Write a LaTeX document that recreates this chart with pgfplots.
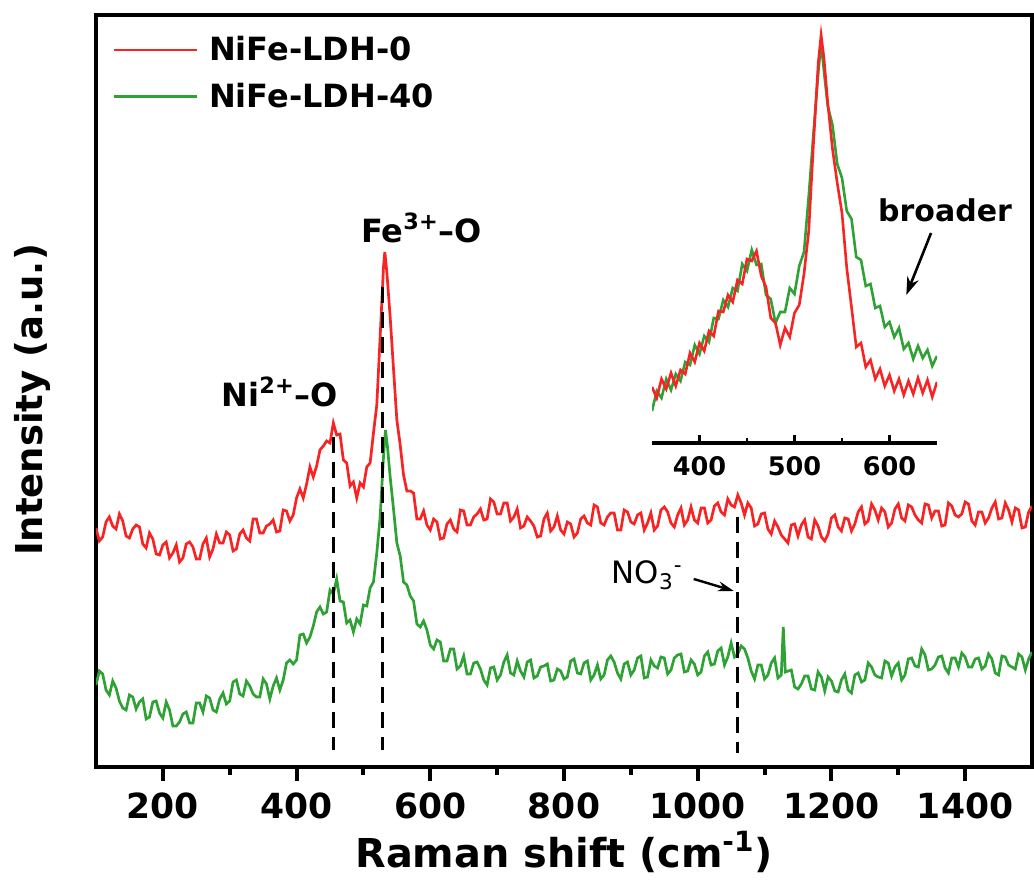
\documentclass[border=0pt]{standalone}
\usepackage{fontspec}
\setmainfont{DejaVu Sans}
\usepackage{pgfplots}
\pgfplotsset{compat=1.18}
\usetikzlibrary{arrows.meta}
\definecolor{cred}{RGB}{248,36,36}
\definecolor{cgreen}{RGB}{46,162,52}
\begin{document}
\begin{tikzpicture}
\begin{axis}[
  name=main,
  scale only axis, width=468pt, height=376pt,
  xmin=100, xmax=1500, ymin=0, ymax=752,
  axis line style={line width=2.2pt},
  xtick={200,400,...,1400}, minor x tick num=1,
  xtick pos=bottom, ytick=\empty,
  tick align=outside, major tick length=7pt, minor tick length=4pt,
  every tick/.style={black, line width=2pt},
  ticklabel style={font=\fontsize{17.3}{20}\selectfont\bfseries},
  xticklabel style={yshift=-2.5pt},
  /pgf/number format/assume math mode=true,
  /pgf/number format/1000 sep={},
  xlabel={Raman shift (cm\textsuperscript{-1})},
  xlabel style={font=\fontsize{19.9}{24}\selectfont\bfseries, at={(axis description cs:0.5,-0.113)}, anchor=center},
  ylabel={Intensity (a.u.)},
  ylabel style={font=\fontsize{18.5}{22}\selectfont\bfseries, at={(axis description cs:-0.068,0.488)}, anchor=center},
  legend style={draw=none, fill=none, at={(axis description cs:0,1)}, anchor=north west, xshift=8pt, yshift=-8.5pt, font=\fontsize{16}{19}\selectfont\bfseries, row sep=5.5pt, inner sep=0pt},
  legend image code/.code={\draw[#1, line width=1.3pt] (0pt,0pt) -- (41.5pt,0pt); \path (45pt,0pt);},
  legend cell align=left,
]
\addplot[cred, line width=1.35pt] coordinates {
(100,239)(105,226)(110,230)(115,245)(120,250)(125,241)(130,238)(135,253)(140,246)(145,231)
(150,229)(155,238)(160,242)(165,240)(170,223)(175,219)(180,234)(185,228)(190,213)(195,212)
(200,222)(205,225)(210,209)(215,214)(220,222)(225,205)(230,209)(235,223)(240,225)(245,220)
(250,208)(255,208)(260,223)(265,229)(270,210)(275,218)(280,233)(285,224)(290,224)(295,235)
(300,232)(305,216)(310,218)(315,233)(320,237)(325,229)(330,226)(335,248)(340,248)(345,234)
(350,234)(355,241)(360,243)(365,247)(370,235)(375,236)(380,257)(385,256)(390,246)(395,252)
(400,269)(405,278)(410,269)(415,283)(420,300)(425,290)(430,301)(435,317)(440,321)(445,326)
(450,324)(455,344)(460,332)(465,333)(470,307)(475,304)(480,281)(485,285)(490,269)(495,284)
(500,280)(505,300)(510,304)(515,334)(520,362)(525,430)(530,500)(532,515)(535,495)(540,450)
(545,398)(550,347)(555,322)(560,292)(565,276)(570,276)(575,274)(580,248)(585,248)(590,256)
(595,242)(600,237)(605,248)(610,245)(615,228)(620,229)(625,243)(630,247)(635,238)(640,235)
(645,257)(650,256)(655,242)(660,242)(665,250)(670,253)(675,258)(680,247)(685,248)(690,268)
(695,265)(700,253)(705,253)(710,264)(715,264)(720,246)(725,250)(730,258)(735,239)(740,241)
(745,250)(750,246)(755,241)(760,230)(765,231)(770,248)(775,254)(780,236)(785,240)(790,251)
(795,237)(800,233)(805,245)(810,243)(815,230)(820,234)(825,248)(830,251)(835,244)(840,242)
(845,262)(850,260)(855,244)(860,242)(865,250)(870,254)(875,254)(880,237)(885,237)(890,257)
(895,255)(900,245)(905,243)(910,252)(915,254)(920,237)(925,244)(930,254)(935,237)(940,241)
(945,257)(950,260)(955,255)(960,244)(965,240)(970,252)(975,259)(980,242)(985,247)(990,260)
(995,247)(1000,244)(1005,259)(1010,259)(1015,244)(1020,247)(1025,261)(1030,264)(1035,255)(1040,252)
(1045,268)(1050,262)(1055,260)(1060,272)(1065,264)(1070,252)(1075,264)(1080,259)(1085,241)(1090,243)
(1095,253)(1100,254)(1105,238)(1110,233)(1115,246)(1120,240)(1125,232)(1130,228)(1135,224)(1140,242)
(1145,243)(1150,231)(1155,242)(1160,247)(1165,230)(1170,228)(1175,247)(1180,241)(1185,230)(1190,226)
(1195,233)(1200,249)(1205,252)(1210,240)(1215,236)(1220,249)(1225,248)(1230,236)(1235,243)(1240,255)
(1245,260)(1250,243)(1255,246)(1260,263)(1265,257)(1270,247)(1275,259)(1280,255)(1285,240)(1290,244)
(1295,258)(1300,263)(1305,249)(1310,246)(1315,262)(1320,260)(1325,252)(1330,247)(1335,244)(1340,263)
(1345,262)(1350,249)(1355,256)(1360,256)(1365,241)(1370,242)(1375,264)(1380,261)(1385,252)(1390,250)
(1395,253)(1400,265)(1405,263)(1410,246)(1415,242)(1420,255)(1425,255)(1430,244)(1435,249)(1440,259)
(1445,265)(1450,248)(1455,249)(1460,264)(1465,257)(1470,245)(1475,259)(1480,257)(1485,239)(1490,240)
(1495,255)(1500,261)
};
\addlegendentry{NiFe-LDH-0}
\addplot[cgreen, line width=1.35pt] coordinates {
(100,82)(105,96)(110,93)(115,77)(120,72)(125,86)(130,79)(135,66)(140,59)(145,57)
(150,72)(155,70)(160,58)(165,65)(170,68)(175,48)(180,50)(185,65)(190,66)(195,54)
(200,49)(205,65)(210,57)(215,41)(220,41)(225,45)(230,53)(235,55)(240,44)(245,44)
(250,64)(255,64)(260,55)(265,71)(270,69)(275,57)(280,55)(285,68)(290,74)(295,63)
(300,66)(305,85)(310,87)(315,73)(320,71)(325,86)(330,81)(335,73)(340,70)(345,70)
(350,88)(355,83)(360,68)(365,81)(370,89)(375,77)(380,87)(385,104)(390,107)(395,103)
(400,107)(405,132)(410,133)(415,124)(420,130)(425,141)(430,155)(435,160)(440,153)(445,155)
(450,177)(455,173)(460,188)(465,166)(470,165)(475,144)(480,147)(485,135)(490,148)(495,143)
(500,162)(505,161)(510,179)(515,185)(520,214)(525,250)(530,310)(533,337)(536,320)(540,290)
(545,258)(550,224)(555,211)(560,185)(565,182)(570,171)(575,166)(580,143)(585,140)(590,146)
(595,137)(600,122)(605,118)(610,127)(615,125)(620,106)(625,106)(630,118)(635,118)(640,98)
(645,101)(650,111)(655,93)(660,93)(665,104)(670,105)(675,98)(680,87)(685,82)(690,99)
(695,100)(700,87)(705,92)(710,105)(715,112)(720,94)(725,92)(730,106)(735,96)(740,90)
(745,105)(750,107)(755,89)(760,91)(765,100)(770,101)(775,103)(780,86)(785,87)(790,98)
(795,96)(800,88)(805,90)(810,106)(815,108)(820,94)(825,93)(830,104)(835,106)(840,87)
(845,92)(850,102)(855,88)(860,92)(865,107)(870,111)(875,105)(880,94)(885,88)(890,103)
(895,105)(900,92)(905,97)(910,109)(915,111)(920,89)(925,90)(930,107)(935,101)(940,99)
(945,110)(950,109)(955,93)(960,97)(965,109)(970,112)(975,113)(980,95)(985,96)(990,107)
(995,103)(1000,92)(1005,95)(1010,111)(1015,115)(1020,102)(1025,103)(1030,116)(1035,119)(1040,102)
(1045,110)(1050,124)(1055,110)(1060,113)(1065,121)(1070,118)(1075,109)(1080,96)(1085,88)(1090,102)
(1095,102)(1100,88)(1105,92)(1110,104)(1115,109)(1120,89)(1125,92)(1128,140)(1131,95)(1140,97)
(1145,80)(1150,78)(1155,83)(1160,91)(1165,91)(1170,78)(1175,77)(1180,95)(1185,90)(1190,76)
(1195,90)(1200,86)(1205,76)(1210,75)(1215,87)(1220,93)(1225,77)(1230,74)(1235,92)(1240,94)
(1245,85)(1250,87)(1255,104)(1260,100)(1265,92)(1270,90)(1275,89)(1280,106)(1285,104)(1290,91)
(1295,100)(1300,104)(1305,87)(1310,92)(1315,108)(1320,109)(1325,101)(1330,100)(1335,118)(1340,112)
(1345,97)(1350,98)(1355,102)(1360,110)(1365,111)(1370,99)(1375,94)(1380,109)(1385,109)(1390,100)
(1395,114)(1400,110)(1405,100)(1410,100)(1415,108)(1420,109)(1425,98)(1430,101)(1435,113)(1440,108)
(1445,94)(1450,92)(1455,111)(1460,110)(1465,102)(1470,100)(1475,98)(1480,113)(1485,110)(1490,97)
(1495,108)(1500,115)
};
\addlegendentry{NiFe-LDH-40}
\addplot[black, line width=1.6pt, dash pattern=on 8pt off 4.5pt, forget plot] coordinates {(455,330)(455,17)};
\addplot[black, line width=1.6pt, dash pattern=on 8pt off 4.5pt, forget plot] coordinates {(528,480)(528,17)};
\addplot[black, line width=1.6pt, dash pattern=on 8pt off 4.5pt, forget plot] coordinates {(1060,250)(1060,14)};
\node[font=\fontsize{16}{19}\selectfont\bfseries] at (axis cs:375,375) {Ni\textsuperscript{2+}–O};
\node[font=\fontsize{16}{19}\selectfont\bfseries] at (axis cs:587,539) {Fe\textsuperscript{3+}–O};
\node[font=\fontsize{15}{18}\selectfont\bfseries] at (axis cs:1370,557) {broader};
\draw[-{Stealth[length=9pt,width=6pt]}, line width=1.3pt] (axis cs:1349,534) -- (axis cs:1312,472);
\node[font=\fontsize{15.4}{18}\selectfont, anchor=east] at (axis cs:988,192) {NO\textsubscript{3}\textsuperscript{-}};
\draw[-{Stealth[length=8pt,width=5pt]}, line width=1.2pt] (axis cs:994,188) -- (axis cs:1054,176);
\end{axis}
\begin{axis}[
  at={(278pt,162pt)}, anchor=south west,
  scale only axis, width=142.5pt, height=210pt,
  xmin=350, xmax=650, ymin=0, ymax=420,
  axis x line=bottom, axis y line=none,
  axis line style={-, line width=1.6pt},
  xtick={400,500,600}, minor x tick num=1,
  tick align=inside, major tick length=4pt, minor tick length=2.5pt,
  every tick/.style={black, line width=1.4pt},
  ticklabel style={font=\fontsize{12.8}{15}\selectfont\bfseries},
  xticklabel style={yshift=-3pt},
  /pgf/number format/assume math mode=true,
]
\addplot[cgreen, line width=1.3pt] coordinates {
(350,32)(355,52)(360,45)(365,64)(370,53)(375,69)(380,62)(385,81)(390,78)(395,98)
(400,89)(405,107)(410,101)(415,125)(420,124)(425,143)(430,136)(435,155)(440,152)(445,179)
(450,172)(455,193)(460,178)(465,179)(470,148)(475,144)(480,120)(485,131)(490,131)(495,155)
(500,149)(505,177)(510,191)(515,247)(520,310)(525,370)(528,400)(531,372)(535,337)(540,318)
(545,279)(550,265)(555,232)(560,224)(565,186)(570,183)(575,157)(580,159)(585,135)(590,137)
(595,116)(600,121)(605,106)(610,115)(615,94)(620,100)(625,84)(630,97)(635,85)(640,93)
(645,77)(650,87)
};
\addplot[cred, line width=1.3pt] coordinates {
(350,56)(355,45)(360,64)(365,54)(370,70)(375,57)(380,73)(385,69)(390,90)(395,81)
(400,100)(405,92)(410,112)(415,107)(420,132)(425,131)(430,148)(435,141)(440,163)(445,159)
(450,184)(455,182)(460,192)(465,167)(470,156)(475,125)(480,120)(485,98)(490,115)(495,106)
(500,130)(505,138)(510,169)(515,212)(520,300)(525,380)(528,408)(531,385)(535,340)(540,294)
(545,260)(550,230)(555,175)(560,136)(565,96)(570,100)(575,76)(580,83)(585,64)(590,74)
(595,57)(600,68)(605,52)(610,64)(615,48)(620,62)(625,49)(630,65)(635,50)(640,63)
(645,46)(650,61)
};
\end{axis}
\pgfresetboundingbox
\useasboundingbox (-48pt,-59.5pt) rectangle (469pt,383.5pt);
\end{tikzpicture}
\end{document}
